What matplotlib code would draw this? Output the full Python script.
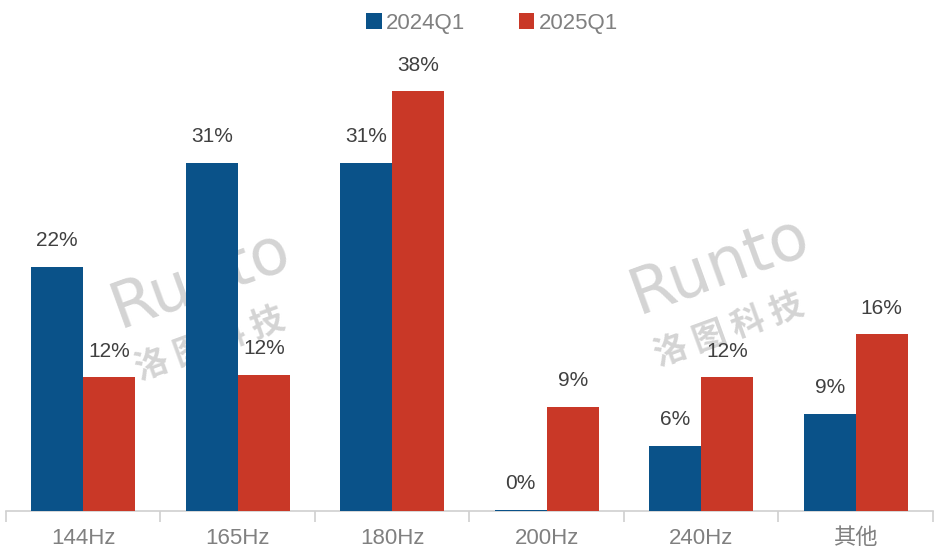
import numpy as np
import matplotlib.pyplot as plt

plt.rcParams['font.family'] = ['Liberation Sans', 'Noto Sans CJK SC', 'DejaVu Sans']

categories = ['144Hz', '165Hz', '180Hz', '200Hz', '240Hz', '其他']
series_names = ['2024Q1', '2025Q1']
q1_2024 = [22.1, 31.5, 31.5, 0.1, 5.9, 8.8]
q1_2025 = [12.1, 12.3, 38.0, 9.4, 12.1, 16.0]
labels_2024 = ['22%', '31%', '31%', '0%', '6%', '9%']
labels_2025 = ['12%', '12%', '38%', '9%', '12%', '16%']

blue = '#0A5289'
red = '#C93827'

fig = plt.figure(figsize=(9.37, 5.59), dpi=100)
ax = fig.add_axes([0.0064, 0.0859, 0.9893, 0.83])

x = np.arange(len(categories))
w = 0.337
b1 = ax.bar(x - w/2, q1_2024, w, color=blue, label=series_names[0], zorder=3)
b2 = ax.bar(x + w/2, q1_2025, w, color=red, label=series_names[1], zorder=3)

for bars, labs in ((b1, labels_2024), (b2, labels_2025)):
    for rect, lab in zip(bars, labs):
        ax.annotate(lab, (rect.get_x() + rect.get_width()/2, rect.get_height()),
                    xytext=(0, 12), textcoords='offset points', ha='center', va='bottom',
                    fontsize=15, color='#404040', zorder=4)

# watermark
for wx, wy in ((0.21, 0.44), (0.77, 0.47)):
    ax.text(wx, wy + 0.06, 'Runto', transform=ax.transAxes, fontsize=46,
            color='#d4d4d4', rotation=20, ha='center', va='center', zorder=1,
            family=['DejaVu Sans'])
    ax.text(wx + 0.01, wy - 0.08, '洛 图 科 技', transform=ax.transAxes, fontsize=24,
            color='#d4d4d4', rotation=20, ha='center', va='center', zorder=1,
            family=['Noto Sans CJK SC'], fontweight='bold')

ax.set_xlim(-0.5, len(categories) - 0.5)
ax.set_ylim(0, 42)
ax.set_yticks([])
for s in ['top', 'right', 'left']:
    ax.spines[s].set_visible(False)
ax.spines['bottom'].set_color('#d0d0d0')
ax.spines['bottom'].set_linewidth(1.2)

ax.set_xticks(x)
ax.set_xticklabels(categories, fontsize=16, color='#808080')
ax.tick_params(axis='x', length=0, pad=12)
ax.set_xticks(np.arange(-0.5, len(categories)), minor=True)
ax.tick_params(axis='x', which='minor', length=8, color='#d0d0d0', width=1.2)

fig.legend(loc='center', bbox_to_anchor=(0.525, 0.958), ncol=2, frameon=False,
           fontsize=16, labelcolor='#808080', handlelength=0.7, handleheight=0.7,
           handletextpad=0.2, columnspacing=2.4)

fig.savefig('out.png', dpi=100)
